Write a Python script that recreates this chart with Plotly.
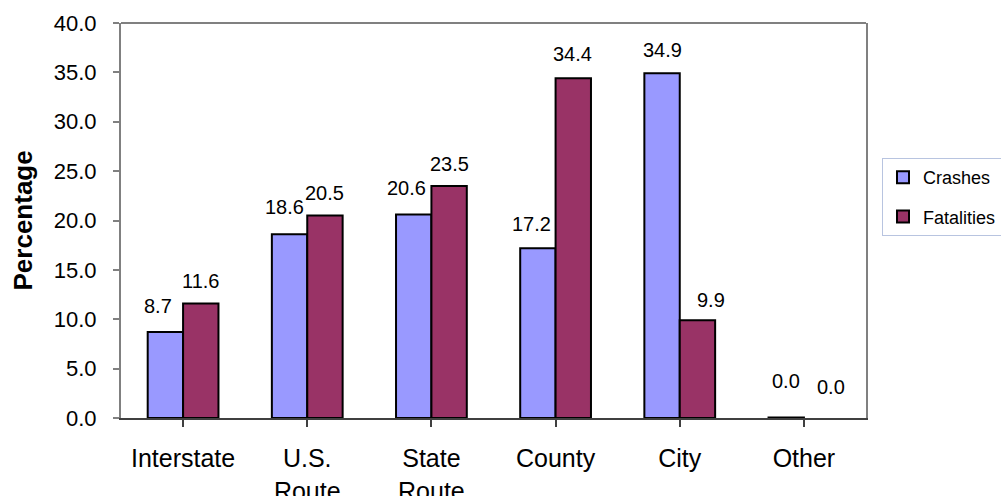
import plotly.graph_objects as go

categories = ["Interstate", "U.S.<br>Route", "State<br>Route", "County", "City", "Other"]
crashes = [8.7, 18.6, 20.6, 17.2, 34.9, 0.04]
fatalities = [11.6, 20.5, 23.5, 34.4, 9.9, 0.0]
y_ticks = [0, 5, 10, 15, 20, 25, 30, 35, 40]

# label placement tweaks (pixels): horizontal shift, height above bar top
crash_dx = [-7, -5, -7, -6, 0, 0]
crash_dy = [26, 27, 27, 24, 23, 37]
fat_dx = [0, 0, 0, -1, 14, 9]
fat_dy = [22, 23, 22, 24, 20, 31]

FONT = "Liberation Sans, Arial, sans-serif"
BARGAP = 0.43
half = (1 - BARGAP) / 4  # half of one bar width in category units


def outline(vals):
    return [2 if v > 0 else 0 for v in vals]


fig = go.Figure()
fig.add_trace(go.Bar(x=list(range(6)), y=crashes, name="Crashes",
                     marker=dict(color="#9999FF", line=dict(color="black", width=outline(crashes))),
                     legendgroup="a"))
fig.add_trace(go.Bar(x=list(range(6)), y=fatalities, name="Fatalities",
                     marker=dict(color="#993366", line=dict(color="black", width=outline(fatalities))),
                     legendgroup="b"))

annotations = []
for i in range(6):
    annotations.append(dict(x=i - half, y=crashes[i], xref="x", yref="y",
                            text=f"{crashes[i]:.1f}", showarrow=False,
                            xshift=crash_dx[i], yshift=crash_dy[i], yanchor="middle",
                            font=dict(family=FONT, size=20, color="black")))
    annotations.append(dict(x=i + half, y=fatalities[i], xref="x", yref="y",
                            text=f"{fatalities[i]:.1f}", showarrow=False,
                            xshift=fat_dx[i], yshift=fat_dy[i], yanchor="middle",
                            font=dict(family=FONT, size=20, color="black")))
annotations.append(dict(x=0, y=0.5, xref="paper", yref="paper", xshift=-99,
                        text="<b>Percentage</b>", textangle=-90, showarrow=False,
                        xanchor="center", yanchor="middle",
                        font=dict(family=FONT, size=26, color="black")))

fig.update_layout(
    width=1001, height=496,
    margin=dict(l=121, r=135, t=23, b=78),
    paper_bgcolor="white", plot_bgcolor="white",
    barmode="group", bargap=BARGAP, bargroupgap=0,
    annotations=annotations,
    showlegend=True,
    legend=dict(xref="container", yref="container", x=882 / 1001, y=1 - 158 / 496,
                xanchor="left", yanchor="top",
                bordercolor="#b8c4e0", borderwidth=1, bgcolor="white",
                font=dict(family=FONT, size=18, color="black"),
                tracegroupgap=13, traceorder="grouped"),
    shapes=[dict(type="line", xref="paper", yref="paper", x0=0, x1=1, y0=1, y1=1,
                 line=dict(color="#808080", width=2))],
)
fig.update_xaxes(
    range=[-0.5, 5.5], tickmode="array", tickvals=list(range(6)), ticktext=categories,
    ticks="outside", tickson="boundaries", ticklen=7, tickwidth=2, tickcolor="#404040",
    showline=True, linecolor="#404040", linewidth=2, showgrid=False, zeroline=False,
    tickfont=dict(family=FONT, size=25, color="black"), ticklabelstandoff=10,
    automargin=False,
)
fig.update_yaxes(
    range=[0, 40], tickmode="array", tickvals=y_ticks,
    ticktext=[f"{v:.1f}" for v in y_ticks],
    ticks="outside", ticklen=6, tickwidth=2, tickcolor="#808080",
    showline=True, linecolor="#808080", linewidth=2, mirror=True,
    showgrid=False, zeroline=False,
    tickfont=dict(family=FONT, size=22, color="black"), ticklabelstandoff=12,
    automargin=False,
)
fig.write_html("out.html", config={"displayModeBar": False},
               post_script="document.body.style.margin='0px';")
